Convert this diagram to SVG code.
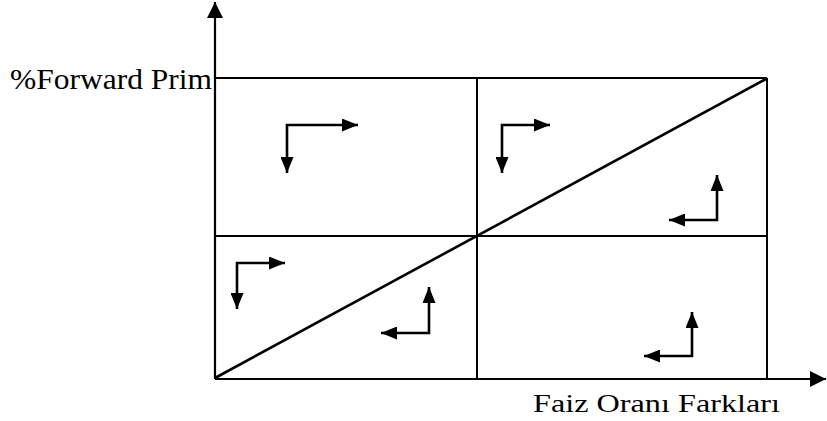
<svg xmlns="http://www.w3.org/2000/svg" width="827" height="421" viewBox="0 0 827 421">
<defs>
<marker id="ah" viewBox="0 0 16 13" refX="16" refY="6.5" markerWidth="16" markerHeight="13" markerUnits="userSpaceOnUse" orient="auto-start-reverse">
<path d="M0,0 L16,6.5 L0,13 Z" fill="#000"/>
</marker>
<marker id="big" viewBox="0 0 16 16" refX="16" refY="8" markerWidth="16" markerHeight="16" markerUnits="userSpaceOnUse" orient="auto">
<path d="M0,0 L16,8 L0,16 Z" fill="#000"/>
</marker>
</defs>
<style>
.ln{stroke:#000;stroke-width:2;fill:none}
.ax{stroke:#000;stroke-width:2.2;fill:none}
.el{stroke:#000;stroke-width:2.6;fill:none;stroke-linejoin:miter}
.lbl{font-family:"Liberation Serif","Times New Roman",serif;fill:#000}
</style>
<rect width="827" height="421" fill="#fff"/>
<g id="connectors">
<line class="ax" x1="215" y1="379" x2="215" y2="2" marker-end="url(#big)"/>
<line class="ax" x1="215" y1="379" x2="826" y2="379" marker-end="url(#big)"/>
<line class="ln" x1="215" y1="78" x2="767" y2="78"/>
<line class="ln" x1="767" y1="78" x2="767" y2="379"/>
<line class="ln" x1="215" y1="236" x2="767" y2="236"/>
<line class="ln" x1="477" y1="78" x2="477" y2="379"/>
<line class="el" x1="215" y1="378" x2="766" y2="79"/>
</g>
<g id="arrow1"><polyline class="el" points="358,125 287,125 287,173" marker-start="url(#ah)" marker-end="url(#ah)"/></g>
<g id="arrow2"><polyline class="el" points="550,125 502,125 502,173" marker-start="url(#ah)" marker-end="url(#ah)"/></g>
<g id="arrow3"><polyline class="el" points="669,220 717,220 717,175" marker-start="url(#ah)" marker-end="url(#ah)"/></g>
<g id="arrow4"><polyline class="el" points="285,263 237,263 237,309" marker-start="url(#ah)" marker-end="url(#ah)"/></g>
<g id="arrow5"><polyline class="el" points="381,333 429,333 429,287" marker-start="url(#ah)" marker-end="url(#ah)"/></g>
<g id="arrow6"><polyline class="el" points="644,356 692,356 692,312" marker-start="url(#ah)" marker-end="url(#ah)"/></g>
<g id="label-y"><text class="lbl" x="10" y="89" font-size="29" textLength="202" lengthAdjust="spacingAndGlyphs">%Forward Prim</text></g>
<g id="label-x"><text class="lbl" x="533" y="412" font-size="26" textLength="247" lengthAdjust="spacingAndGlyphs">Faiz Oranı Farkları</text></g>
</svg>
